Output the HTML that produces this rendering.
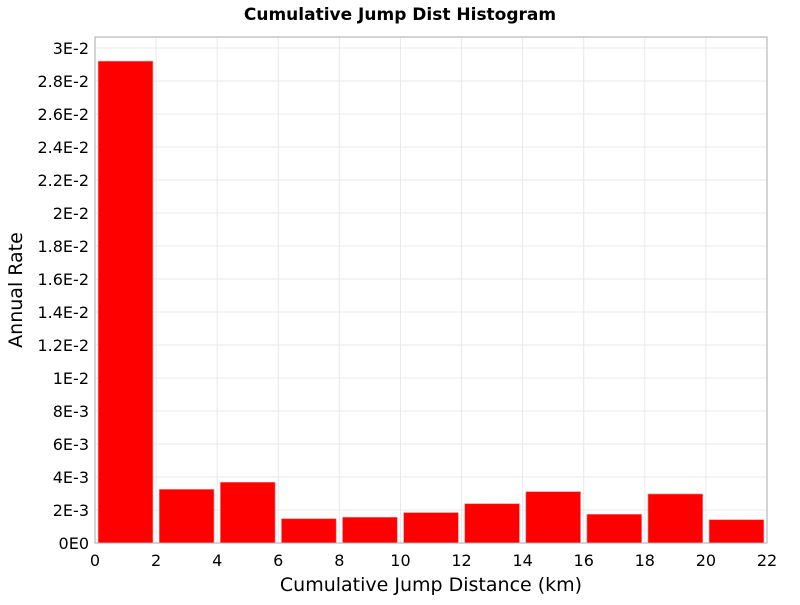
<!DOCTYPE html>
<html><head><meta charset="utf-8"><style>
body{margin:0;background:#fff;}
svg text{font-family:"DejaVu Sans","Liberation Sans",sans-serif;}
</style></head><body>
<svg id="chart" width="800" height="600" xmlns="http://www.w3.org/2000/svg">
<text x="400" y="20" text-anchor="middle" font-size="17" font-weight="bold">Cumulative Jump Dist Histogram</text>
<g id="grid"></g>
<g id="bars"></g>
<rect x="95" y="37" width="672" height="506" fill="none" stroke="#aaa" stroke-width="1"/>
<g id="ticks"></g>
<text x="431" y="591" text-anchor="middle" font-size="19">Cumulative Jump Distance (km)</text>
<text transform="translate(22,290) rotate(-90)" text-anchor="middle" font-size="19">Annual Rate</text>
</svg>
<script>
const binCenters=[1,3,5,7,9,11,13,15,17,19,21];
const rates=[0.0292,0.00325,0.00368,0.00147,0.00156,0.00184,0.00238,0.00311,0.00174,0.00297,0.00141];
const xTicks=[0,2,4,6,8,10,12,14,16,18,20,22];
const yTicks=[0,0.002,0.004,0.006,0.008,0.010,0.012,0.014,0.016,0.018,0.020,0.022,0.024,0.026,0.028,0.030];
const yLabels=["0E0","2E-3","4E-3","6E-3","8E-3","1E-2","1.2E-2","1.4E-2","1.6E-2","1.8E-2","2E-2","2.2E-2","2.4E-2","2.6E-2","2.8E-2","3E-2"];
const NS="http://www.w3.org/2000/svg";
const X0=95,X1=767,Y0=543,Y30=48;
const xs=v=>X0+(X1-X0)*v/22;
const ys=v=>Y0-(Y0-Y30)*v/0.03;
function mk(t,a,p){const e=document.createElementNS(NS,t);for(const k in a)e.setAttribute(k,a[k]);p.appendChild(e);return e;}
const grid=document.getElementById('grid'),bars=document.getElementById('bars'),ticks=document.getElementById('ticks');
xTicks.forEach(v=>{
  const l=mk('line',{x1:xs(v),x2:xs(v),y1:37,y2:543,stroke:'#e8e8e8'},grid);
  
  
  const t=mk('text',{x:xs(v),y:566,'text-anchor':'middle','font-size':'16'},ticks);t.textContent=v;
  
  
});
yTicks.forEach((v,i)=>{
  const l=mk('line',{x1:95,x2:767,y1:ys(v),y2:ys(v),stroke:'#e8e8e8'},grid);
  
  
  const t=mk('text',{x:89,y:ys(v)+6,'text-anchor':'end','font-size':'16'},ticks);t.textContent=yLabels[i];
  
  
});
binCenters.forEach((c,i)=>{
  const r=mk('rect',{x:xs(c-0.895),width:xs(c+0.895)-xs(c-0.895),y:ys(rates[i]),height:Y0-ys(rates[i]),fill:'#ff0000',stroke:'#ff8080','stroke-width':'0.6'},bars);
  
  
});
</script>
</body></html>
